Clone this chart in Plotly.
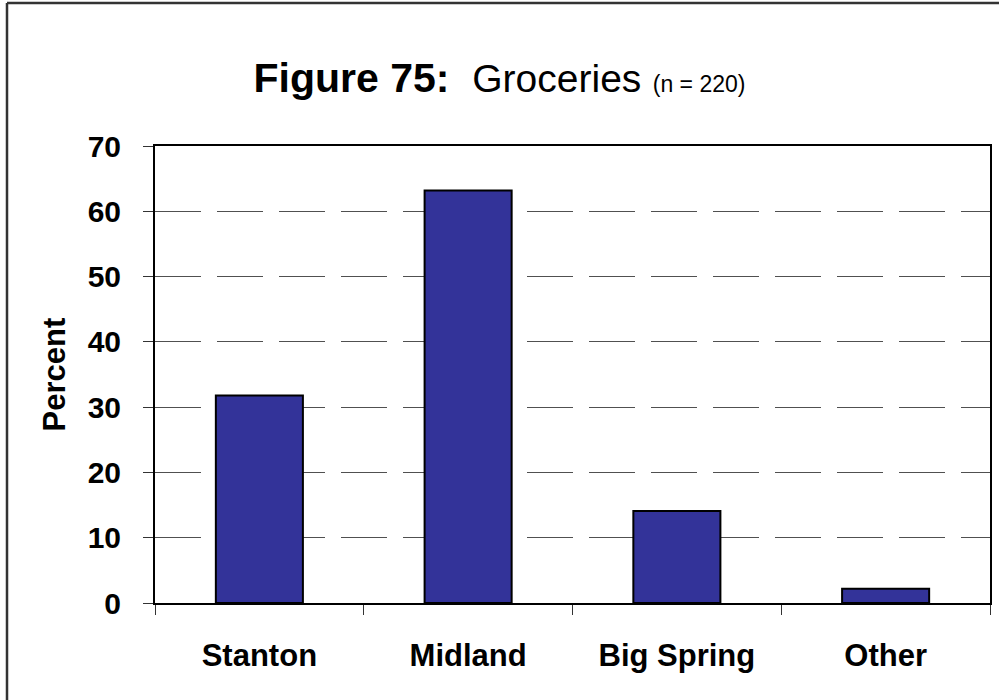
import plotly.graph_objects as go

categories = ["Stanton", "Midland", "Big Spring", "Other"]
percent = [31.8, 63.2, 14.1, 2.2]
y_ticks = [0, 10, 20, 30, 40, 50, 60, 70]

FONT = "Liberation Sans, Arial, sans-serif"

fig = go.Figure(
    go.Bar(
        x=categories,
        y=percent,
        marker=dict(color="#333399", line=dict(color="#000000", width=2)),
        hoverinfo="x+y",
    )
)

L, R, T, B = 155, 9, 146, 97
W, H = 999, 700
pw = W - L - R
ph = H - T - B

fig.update_layout(
    width=W,
    height=H,
    margin=dict(l=L, r=R, t=T, b=B, autoexpand=False),
    paper_bgcolor="white",
    plot_bgcolor="white",
    bargap=0.583,
    showlegend=False,
    font=dict(family=FONT, color="black"),
    title=dict(
        text="<b>Figure 75:</b>&nbsp;&nbsp;<span style='font-size:39px'>Groceries</span> <span style='font-size:23px'>(n = 220)</span>",
        font=dict(family=FONT, size=41, color="black"),
        x=0.5,
        xref="container",
        xanchor="center",
        y=1 - 78 / H,
        yref="container",
        yanchor="middle",
    ),
    xaxis=dict(
        type="category",
        tickson="boundaries",
        ticks="outside",
        ticklen=10,
        tickwidth=1,
        tickcolor="#333333",
        showline=True,
        linecolor="black",
        linewidth=2,
        mirror=True,
        showgrid=False,
        tickfont=dict(family=FONT, size=31, color="black", weight="bold"),
        ticklabelstandoff=24,
    ),
    yaxis=dict(
        range=[0, 70],
        tickvals=y_ticks,
        ticktext=[str(v) for v in y_ticks],
        ticks="outside",
        ticklen=10,
        tickwidth=1,
        tickcolor="#333333",
        showline=True,
        linecolor="black",
        linewidth=2,
        mirror=True,
        showgrid=True,
        gridcolor="#505050",
        gridwidth=1.3,
        griddash="46px,16px",
        zeroline=False,
        tickfont=dict(family=FONT, size=30, color="black", weight="bold"),
        ticklabelstandoff=16,
    ),
    annotations=[
        dict(
            text="<b>Percent</b>",
            textangle=-90,
            xref="paper",
            yref="paper",
            x=(54 - L) / pw,
            y=0.5,
            xanchor="center",
            yanchor="middle",
            showarrow=False,
            font=dict(family=FONT, size=31, color="black"),
        )
    ],
    shapes=[
        dict(type="line", xref="paper", yref="paper",
             x0=(7 - L) / pw, x1=(7 - L) / pw,
             y0=(H - B - 3) / ph, y1=(H - B - 702) / ph,
             line=dict(color="#333333", width=2.5)),
        dict(type="line", xref="paper", yref="paper",
             x0=(7 - L) / pw, x1=(1002 - L) / pw,
             y0=(H - B - 3) / ph, y1=(H - B - 3) / ph,
             line=dict(color="#333333", width=2.5)),
    ],
)

fig.write_html(
    "out.html",
    config={"displayModeBar": False},
    post_script="document.body.style.margin='0';",
)
